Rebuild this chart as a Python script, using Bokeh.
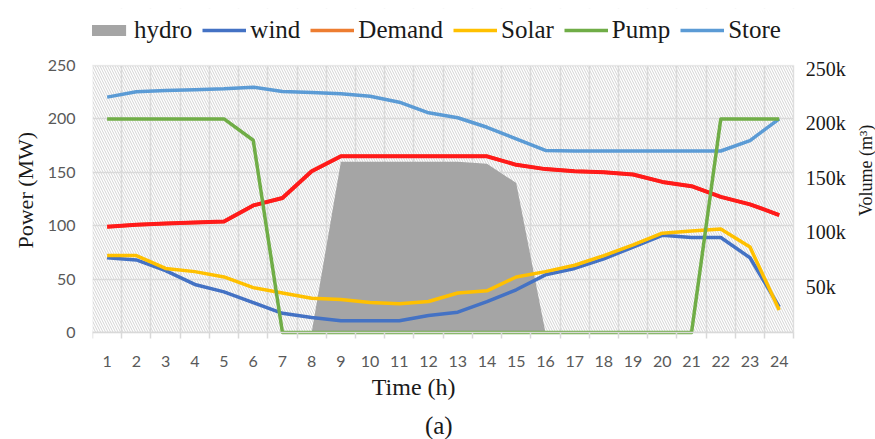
from bokeh.plotting import figure
from bokeh.models import (ColumnDataSource, Range1d, LinearAxis, FixedTicker,
                          Legend, LegendItem, BoxAnnotation, Title, Label)
from bokeh.embed import file_html
from bokeh.resources import INLINE
import math

# ---- data ----
hours = list(range(1, 25))
hydro = [0, 0, 0, 0, 0, 0, 0, 0, 160, 160, 160, 160, 160, 158, 140, 0,
         0, 0, 0, 0, 0, 0, 0, 0]
wind = [70, 68, 58, 45, 38, 28, 18, 14, 11, 11, 11, 16, 19, 29, 40, 54,
        60, 69, 80, 91, 89, 89, 70, 24]
demand = [99, 101, 102, 103, 104, 119, 126, 151, 165, 165, 165, 165, 165, 165,
          157, 153, 151, 150, 148, 141, 137, 127, 120, 110]
solar = [72, 72, 60, 57, 52, 42, 37, 32, 31, 28, 27, 29, 37, 39, 52, 57,
         63, 72, 82, 93, 95, 97, 80, 21]
pump = [200, 200, 200, 200, 200, 180, 0, 0, 0, 0, 0, 0, 0, 0, 0, 0,
        0, 0, 0, 0, 0, 200, 200, 200]
store = [224000, 229000, 230000, 230700, 231600, 233100, 229100, 228200,
         227000, 224800, 219300, 209600, 205000, 196300, 185700, 175000,
         174500, 174500, 174500, 174500, 174500, 174500, 184100, 204000]

left_ticks = [0, 50, 100, 150, 200, 250]
right_ticks = [50000, 100000, 150000, 200000, 250000]
right_labels = ["50k", "100k", "150k", "200k", "250k"]

src = ColumnDataSource(dict(h=hours, hydro=hydro, wind=wind, demand=demand,
                            solar=solar, pump=pump, store=store))

W, H = 875, 439
PMAX = 250
XMIN, XMAX = 0.5, 24.5
# the frame covers the whole canvas except the left strip; the plot box itself
# is 0.5..24.5 x 0..250 and the axes are pinned to its edges
p = figure(width=W, height=H, output_backend="svg", toolbar_location=None,
           x_range=Range1d(XMIN, 27.295), y_range=Range1d(-100.2, 303.4),
           min_border_left=92, min_border_right=0, min_border_top=8,
           min_border_bottom=0)
p.extra_y_ranges = {"vol": Range1d(-90560, 305400)}
p.outline_line_color = None
p.background_fill_color = "white"

# hatched plot-area background
bg = BoxAnnotation(left=XMIN, right=XMAX, bottom=0, top=PMAX, fill_color="white",
                   fill_alpha=1, line_color=None, hatch_pattern="\\",
                   hatch_color="#d3d3d3", hatch_scale=5, hatch_weight=1,
                   level="image")
p.add_layout(bg)

# grid
p.xgrid.ticker = FixedTicker(ticks=[i + 0.5 for i in range(0, 25)])
p.ygrid.ticker = FixedTicker(ticks=left_ticks)
for g in (p.xgrid[0], p.ygrid[0]):
    g.grid_line_color = "#d9d9d9"
    g.grid_line_width = 1.5

# white covers outside the plot box (hide grid there) and a border box
for kw in (dict(bottom=PMAX), dict(left=XMAX), dict(top=0)):
    p.add_layout(BoxAnnotation(fill_color="white", fill_alpha=1, line_color=None,
                               level="underlay", **kw))
p.add_layout(BoxAnnotation(left=XMIN, right=XMAX, bottom=0, top=PMAX, fill_alpha=0,
                           line_color="#d9d9d9", line_width=1.5, level="underlay"))

serif = "Liberation Serif"

# axes
xa = p.xaxis[0]
xa.fixed_location = 0
xa.ticker = FixedTicker(ticks=hours, minor_ticks=[i + 0.5 for i in range(0, 25)])
xa.bounds = (XMIN, XMAX)
xa.axis_line_color = "#d9d9d9"
xa.axis_line_width = 1.5
xa.major_tick_line_color = None
xa.minor_tick_line_color = "#d9d9d9"
xa.minor_tick_line_width = 1.5
xa.minor_tick_out = 6
xa.minor_tick_in = 0
xa.major_label_standoff = 18
xa.major_label_text_font = "Lato"
xa.major_label_text_font_size = "16px"
xa.major_label_text_color = "#595959"

ya = p.yaxis[0]
ya.ticker = FixedTicker(ticks=left_ticks)
ya.axis_line_color = None
ya.major_tick_line_color = None
ya.minor_tick_line_color = None
ya.major_label_standoff = 11
ya.major_label_text_font = "Lato"
ya.major_label_text_font_size = "16px"
ya.major_label_text_color = "#595959"

ra = LinearAxis(y_range_name="vol", ticker=FixedTicker(ticks=right_ticks),
                major_label_overrides={t: l for t, l in zip(right_ticks, right_labels)},
                fixed_location=XMAX)
ra.axis_line_color = None
ra.major_tick_line_color = None
ra.minor_tick_line_color = None
ra.major_label_standoff = 6
ra.major_label_text_font = serif
ra.major_label_text_font_size = "20px"
ra.major_label_text_color = "#1a1a1a"
p.add_layout(ra, "right")

# series
r_hydro = p.varea(x="h", y1=0, y2="hydro", source=src, fill_color="#a5a5a5")
r_store = p.line("h", "store", source=src, y_range_name="vol", line_color="#5b9bd5",
                 line_width=3.5, line_join="round")
r_wind = p.line("h", "wind", source=src, line_color="#4472c4", line_width=3.5,
                line_join="round")
# orange demand (legend colour) lies under the red plotted demand line
r_dem_leg = p.line("h", "demand", source=src, line_color="#ed7d31", line_width=3.5)
r_demand = p.line("h", "demand", source=src, line_color="#ff1a1a", line_width=4,
                  line_join="round")
r_solar = p.line("h", "solar", source=src, line_color="#ffc000", line_width=3.5,
                 line_join="round")
r_pump = p.line("h", "pump", source=src, line_color="#70ad47", line_width=3.5,
                line_join="round")

legend = Legend(items=[
    LegendItem(label="hydro", renderers=[r_hydro]),
    LegendItem(label="wind", renderers=[r_wind]),
    LegendItem(label="Demand", renderers=[r_dem_leg]),
    LegendItem(label="Solar", renderers=[r_solar]),
    LegendItem(label="Pump", renderers=[r_pump]),
    LegendItem(label="Store", renderers=[r_store]),
], orientation="horizontal", location=(-6, 395), glyph_width=44, glyph_height=14,
    label_standoff=4, spacing=10, padding=0, margin=0,
    border_line_color=None, background_fill_alpha=0,
    label_text_font=serif, label_text_font_size="25px",
    label_text_color="#1a1a1a", label_height=20)
p.add_layout(legend, "center")

# titles inside the widened frame
for txt, x, y, ang, size in [
    ("Volume (m\u00b3)", 26.96, 151.7, math.pi / 2, "18px"),
    ("Time (h)", 11.49, -51.5, 0, "24px"),
    ("(a)", 12.35, -87.5, 0, "25px"),
]:
    p.add_layout(Label(x=x, y=y, text=txt, angle=ang, text_align="center",
                       text_baseline="middle", text_font=serif,
                       text_font_size=size, text_color="#1a1a1a"))

p.add_layout(Title(text="Power (MW)", align="left", offset=191, standoff=14,
                   text_font=serif, text_font_size="22px", text_font_style="normal",
                   text_color="#1a1a1a"), "left")

open("out.html", "w").write(file_html(p, INLINE))
